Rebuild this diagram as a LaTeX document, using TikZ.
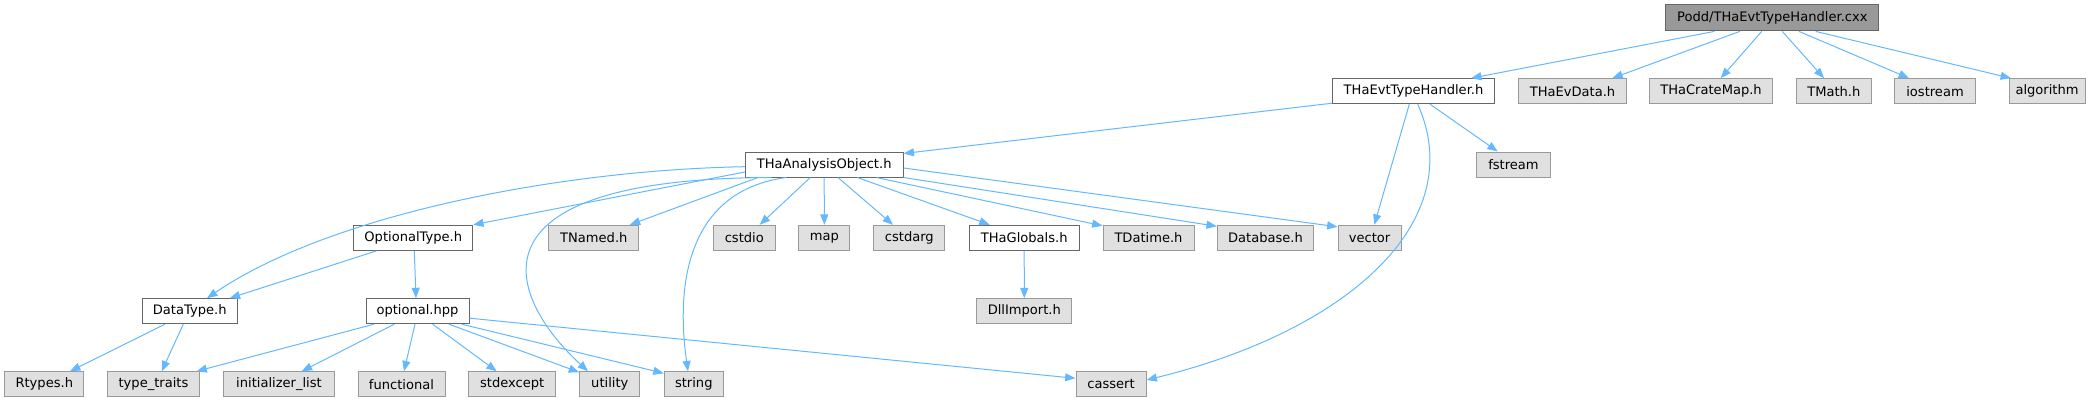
\documentclass[tikz,border=0pt]{standalone}
\usepackage{fontspec}
\setmainfont{DejaVu Sans}
\usetikzlibrary{arrows.meta,calc}
\definecolor{edgec}{HTML}{63B8FF}
\definecolor{extfill}{HTML}{E0E0E0}
\definecolor{extdraw}{HTML}{999999}
\definecolor{docdraw}{HTML}{666666}
\definecolor{rootfill}{HTML}{999999}
\begin{document}
\begin{tikzpicture}[x=0.75pt,y=-0.75pt,
  every node/.style={font=\fontsize{9.8}{11}\selectfont, inner sep=0pt, minimum height=18.75pt, text=black},
  bw/.style={minimum width=#1*0.75pt},
  ext/.style={draw=extdraw, fill=extfill, line width=0.75pt},
  doc/.style={draw=docdraw, fill=white, line width=0.75pt},
  rootn/.style={draw=docdraw, fill=rootfill, line width=0.75pt, minimum height=19.7pt},
  dep/.style={draw=edgec, line width=0.75pt, -{Triangle[length=7.8pt,width=6pt]}},
]
\useasboundingbox (0,0) rectangle (2090,403);

% nodes
\node[rootn,bw=212.7] (podd) at (1772.3,17.8) {Podd/THaEvtTypeHandler.cxx};
\node[doc,bw=161.6] (evh) at (1413.5,91.2) {THaEvtTypeHandler.h};
\node[ext,bw=107.6] (evdata) at (1572.5,91.2) {THaEvData.h};
\node[ext,bw=123.4] (crate) at (1711,91.2) {THaCrateMap.h};
\node[ext,bw=75] (tmath) at (1833.8,91.2) {TMath.h};
\node[ext,bw=80.6] (iostr) at (1935,91.2) {iostream};
\node[ext,bw=76] (algo) at (2047,91.2) {algorithm};
\node[doc,bw=157.7] (ao) at (824.2,164.5) {THaAnalysisObject.h};
\node[ext,bw=73.6] (fstr) at (1513.5,164.5) {fstream};
\node[doc,bw=118.7] (opt) at (413.3,237.8) {OptionalType.h};
\node[ext,bw=89.7] (tnamed) at (593.8,237.8) {TNamed.h};
\node[ext,bw=62] (cstdio) at (744.3,237.8) {cstdio};
\node[ext,bw=51.3] (map) at (824.3,237.8) {map};
\node[ext,bw=71.3] (cstdarg) at (909.3,237.8) {cstdarg};
\node[doc,bw=110.3] (glob) at (1024.2,237.8) {THaGlobals.h};
\node[ext,bw=91] (tdatime) at (1148.5,237.8) {TDatime.h};
\node[ext,bw=96.4] (dbase) at (1265.5,237.8) {Database.h};
\node[ext,bw=63] (vector) at (1369.5,237.8) {vector};
\node[doc,bw=94.7] (dtype) at (189.7,311.2) {DataType.h};
\node[doc,bw=103] (ohpp) at (417.5,311.2) {optional.hpp};
\node[ext,bw=95.3] (dll) at (1024.3,311.2) {DllImport.h};
\node[ext,bw=79.3] (rtypes) at (44.3,384.3) {Rtypes.h};
\node[ext,bw=92.4] (tt) at (153.5,384.3) {type\_traits};
\node[ext,bw=110.6] (il) at (279,384.3) {initializer\_list};
\node[ext,bw=87] (func) at (401.5,384.3) {functional};
\node[ext,bw=87] (stdexc) at (512.2,384.3) {stdexcept};
\node[ext,bw=60.3] (util) at (609.8,384.3) {utility};
\node[ext,bw=59] (str) at (693.8,384.3) {string};
\node[ext,bw=70] (cassert) at (1111,384.3) {cassert};

% edges from root
\draw[dep] ($(podd.south)+(-58,0)$) -- ($(evh.north)+(57.5,0)$);
\draw[dep] ($(podd.south)+(-32.6,0)$) -- ($(evdata.north)+(39.8,0)$);
\draw[dep] ($(podd.south)+(-10.6,0)$) -- ($(crate.north)+(9.7,0)$);
\draw[dep] ($(podd.south)+(10,0)$) -- ($(tmath.north)+(-9.8,0)$);
\draw[dep] ($(podd.south)+(26.7,0)$) -- ($(iostr.north)+(-26,0)$);
\draw[dep] ($(podd.south)+(43.4,0)$) -- ($(algo.north)+(-36,0)$);

% THaEvtTypeHandler.h
\draw[dep] ($(evh.south west)+(0,-1)$) -- ($(ao.north east)+(0,2)$);
\draw[dep] ($(evh.south)+(16.5,0)$) -- ($(fstr.north)+(-15.8,0)$);
\draw[dep] ($(evh.south)+(-4.2,0)$) -- ($(vector.north)+(4.8,0)$);
\draw[dep] ($(evh.south)+(4.2,0)$) .. controls +(52,116) and +(204,-50) .. ($(cassert.east)+(0,-4.3)$);

% THaAnalysisObject.h
\draw[dep] ($(ao.west)+(0,2.2)$) .. controls +(-185,3.3) and +(123,-83.7) .. ($(dtype.north)+(17.3,0)$);
\draw[dep] ($(ao.west)+(0,7.5)$) -- (opt.north east);
\draw[dep] ($(ao.south)+(-66.2,0)$) -- ($(tnamed.north)+(36,0)$);
\draw[dep] ($(ao.south)+(-13.9,0)$) -- ($(cstdio.north)+(15.4,0)$);
\draw[dep] (ao.south) -- (map.north);
\draw[dep] ($(ao.south)+(13.8,0)$) -- ($(cstdarg.north)+(-16.3,0)$);
\draw[dep] ($(ao.south)+(33.1,0)$) -- ($(glob.north)+(-34.5,0)$);
\draw[dep] ($(ao.south)+(52.1,0)$) -- ($(tdatime.north west)+(0,1)$);
\draw[dep] (ao.south east) -- ($(dbase.north west)+(0,1.5)$);
\draw[dep] ($(ao.east)+(0,3.5)$) -- ($(vector.north west)+(0,2)$);
\draw[dep] ($(ao.south)+(-52.9,0)$) .. controls +(-316.3,1) and +(-78,-71.7) .. ($(util.north)+(-21.8,0)$);
\draw[dep] ($(ao.south)+(-37.9,0)$) .. controls +(-96.3,13) and +(-13,-91.7) .. ($(str.north)+(-5.8,0)$);

% OptionalType.h
\draw[dep] ($(opt.south)+(-36.6,0)$) -- ($(dtype.north)+(40,0)$);
\draw[dep] ($(opt.south)+(1,0)$) -- ($(ohpp.north)+(-1.5,0)$);

% DataType.h
\draw[dep] ($(dtype.south)+(-24.7,0)$) -- ($(rtypes.north)+(25.7,0)$);
\draw[dep] ($(dtype.south)+(-6.4,0)$) -- ($(tt.north)+(8.2,0)$);

% optional.hpp
\draw[dep] ($(ohpp.south)+(-43.5,0)$) -- ($(tt.north)+(43,0)$);
\draw[dep] ($(ohpp.south)+(-23.2,0)$) -- ($(il.north)+(22.7,0)$);
\draw[dep] ($(ohpp.south)+(-2.5,0)$) -- ($(func.north)+(2.5,0)$);
\draw[dep] ($(ohpp.south)+(15.2,0)$) -- ($(stdexc.north)+(-15.5,0)$);
\draw[dep] ($(ohpp.south)+(31.5,0)$) -- ($(util.north west)+(0,1)$);
\draw[dep] ($(ohpp.south)+(44.2,0)$) -- ($(str.north west)+(0,2)$);
\draw[dep] ($(ohpp.east)+(0,7)$) -- ($(cassert.west)+(0,-6)$);

% THaGlobals.h
\draw[dep] (glob.south) -- (dll.north);
\end{tikzpicture}
\end{document}
